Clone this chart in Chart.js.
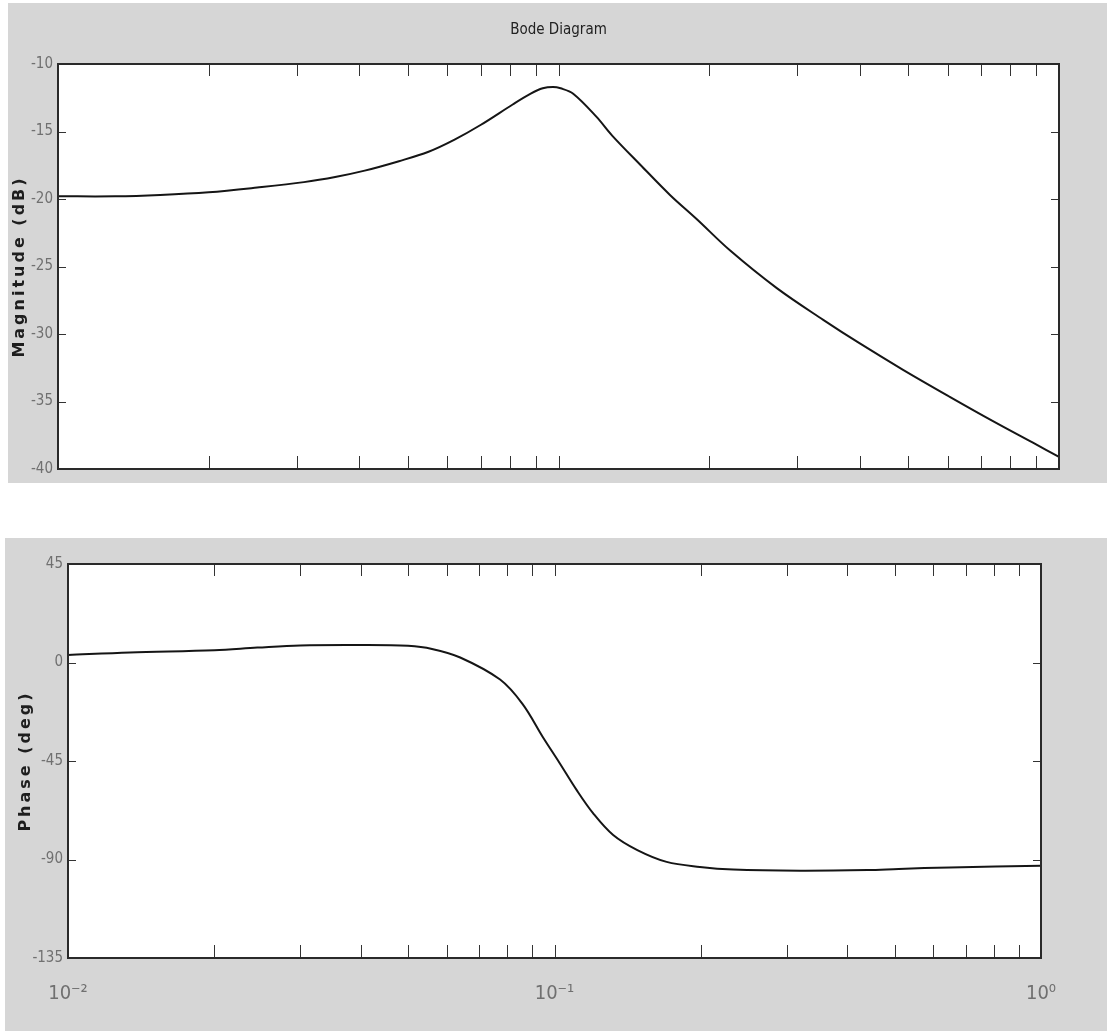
<!DOCTYPE html>
<html>
<head>
<meta charset="utf-8">
<script src="https://cdn.jsdelivr.net/npm/chart.js@4/dist/chart.umd.min.js"></script>
<style>
	body { margin: 0; background: #fff; width: 1107px; height: 1031px; position: relative; overflow: hidden; }
	canvas { position: absolute; background: #d6d6d6; }
	#mag { left: 8px; top: 3px; }
	#phase { left: 5px; top: 538px; }
</style>
</head>
<body>
<canvas id="mag" width="1099" height="480"></canvas>
<canvas id="phase" width="1102" height="493"></canvas>
<script>
// frequency axis (rad/sec), log ticks 1..9 per decade
const xTickValues = [0.01, 0.02, 0.03, 0.04, 0.05, 0.06, 0.07, 0.08, 0.09,
	0.1, 0.2, 0.3, 0.4, 0.5, 0.6, 0.7, 0.8, 0.9, 1]
const decadeValues = [0.01, 0.1, 1]
const decadeLabels = ["10⁻²", "10⁻¹", "10⁰"]

// magnitude curve
const magFreq = [0.01, 0.013, 0.016, 0.02, 0.025, 0.031, 0.036, 0.041, 0.048, 0.055,
	0.062, 0.07, 0.081, 0.088, 0.093, 0.0975, 0.101, 0.107, 0.119, 0.128,
	0.146, 0.167, 0.189, 0.22, 0.273, 0.338, 0.4, 0.488, 0.605, 0.738, 0.887, 1]
const magDb = [-19.8, -19.8, -19.7, -19.5, -19.15, -18.75, -18.35, -17.9, -17.2, -16.5,
	-15.6, -14.5, -13.0, -12.2, -11.8, -11.7, -11.8, -12.2, -13.9, -15.3,
	-17.5, -19.7, -21.5, -23.8, -26.6, -28.95, -30.7, -32.65, -34.65, -36.45, -38.05, -39.1]

// phase curve
const phaseFreq = [0.01, 0.0134, 0.02, 0.0245, 0.03, 0.04, 0.05, 0.056, 0.064, 0.0773,
	0.086, 0.0946, 0.1025, 0.111, 0.12, 0.132, 0.148, 0.17, 0.199, 0.233,
	0.32, 0.44, 0.51, 0.65, 1]
const phaseDeg = [3.4, 4.6, 5.6, 6.8, 7.8, 8.0, 7.6, 6.2, 2.3, -7.8,
	-19.0, -34, -46, -58.2, -68.8, -78.8, -85.7, -91.1, -93.4, -94.6,
	-95.1, -94.8, -94.3, -93.6, -92.8]

const magTicks = {min: -40, max: -10, step: 5}
const phaseTicks = {min: -135, max: 45, step: 45}

const narrow = "'Liberation Sans Narrow', 'Arial Narrow', 'DejaVu Sans Condensed', sans-serif"

// white plot box, inside ticks on all four sides, rotated axis title
const frame = {
	id: "frame",
	beforeDraw(chart) {
		const {ctx, chartArea: a} = chart
		ctx.save()
		ctx.fillStyle = "#fff"
		ctx.fillRect(a.left, a.top, a.width, a.height)
		ctx.restore()
	},
	afterDraw(chart, args, opts) {
		const {ctx, chartArea: a, scales: {x, y}} = chart
		ctx.save()
		ctx.strokeStyle = "#333"
		ctx.lineWidth = 1
		ctx.beginPath()
		x.ticks.forEach(t => {
			const px = Math.round(x.getPixelForValue(t.value)) + 0.5
			if (px <= a.left + 1 || px >= a.right - 1) return
			ctx.moveTo(px, a.bottom)
			ctx.lineTo(px, a.bottom - 13)
			ctx.moveTo(px, a.top)
			ctx.lineTo(px, a.top + 12)
		})
		y.ticks.forEach(t => {
			const py = Math.round(y.getPixelForValue(t.value)) + 0.5
			ctx.moveTo(a.left, py)
			ctx.lineTo(a.left + 8, py)
			ctx.moveTo(a.right, py)
			ctx.lineTo(a.right - 8, py)
		})
		ctx.stroke()
		ctx.lineWidth = 2
		ctx.strokeStyle = "#2a2a2a"
		ctx.strokeRect(a.left, a.top, a.width, a.height)

		ctx.translate(opts.titleX, (a.top + a.bottom) / 2)
		ctx.rotate(-Math.PI / 2)
		ctx.font = "bold 16px 'DejaVu Sans'"
		ctx.letterSpacing = "3px"
		ctx.fillStyle = "#1e1e1e"
		ctx.textAlign = "center"
		ctx.textBaseline = "middle"
		ctx.fillText(opts.title, 0, 0)
		ctx.restore()
	}
}

const logX = (height, showLabels) => ({
	type: "logarithmic",
	min: 0.01,
	max: 1,
	afterBuildTicks: s => { s.ticks = xTickValues.map(v => ({value: v})) },
	afterFit: s => { s.height = height },
	grid: {display: false, drawTicks: false},
	border: {display: false},
	ticks: {
		display: showLabels,
		autoSkip: false,
		maxRotation: 0,
		padding: 24,
		color: "#707070",
		font: {family: narrow, size: 20},
		callback: v => {
			const i = decadeValues.findIndex(d => Math.abs(d - v) < 1e-9)
			return i < 0 ? "" : decadeLabels[i]
		}
	}
})

const linY = (t, width) => ({
	min: t.min,
	max: t.max,
	afterFit: s => { s.width = width },
	grid: {display: false, drawTicks: false},
	border: {display: false},
	ticks: {stepSize: t.step, padding: 5, color: "#707070", font: {family: narrow, size: 15}}
})

const curve = (xs, ys) => ({
	data: xs.map((f, i) => ({x: f, y: ys[i]})),
	borderColor: "#151515",
	borderWidth: 2,
	pointRadius: 0,
	tension: 0.35
})

new Chart(document.getElementById("mag"), {
	type: "line",
	data: {datasets: [curve(magFreq, magDb)]},
	options: {
		responsive: false,
		animation: false,
		layout: {padding: {top: 0, right: 48, left: 0, bottom: 0}},
		plugins: {
			legend: {display: false},
			tooltip: {enabled: false},
			title: {
				display: true,
				text: "Bode Diagram",
				fullSize: false,
				color: "#222",
				font: {family: narrow, size: 15, weight: "normal"},
				padding: {top: 18, bottom: 25}
			},
			frame: {title: "Magnitude (dB)", titleX: 12}
		},
		scales: {
			x: logX(12, false),
			y: linY(magTicks, 50)
		}
	},
	plugins: [frame]
})

new Chart(document.getElementById("phase"), {
	type: "line",
	data: {datasets: [curve(phaseFreq, phaseDeg)]},
	options: {
		responsive: false,
		animation: false,
		layout: {padding: {top: 26, right: 66, left: 0, bottom: 0}},
		plugins: {
			legend: {display: false},
			tooltip: {enabled: false},
			frame: {title: "Phase (deg)", titleX: 21}
		},
		scales: {
			x: logX(73, true),
			y: linY(phaseTicks, 63)
		}
	},
	plugins: [frame]
})
</script>
</body>
</html>
